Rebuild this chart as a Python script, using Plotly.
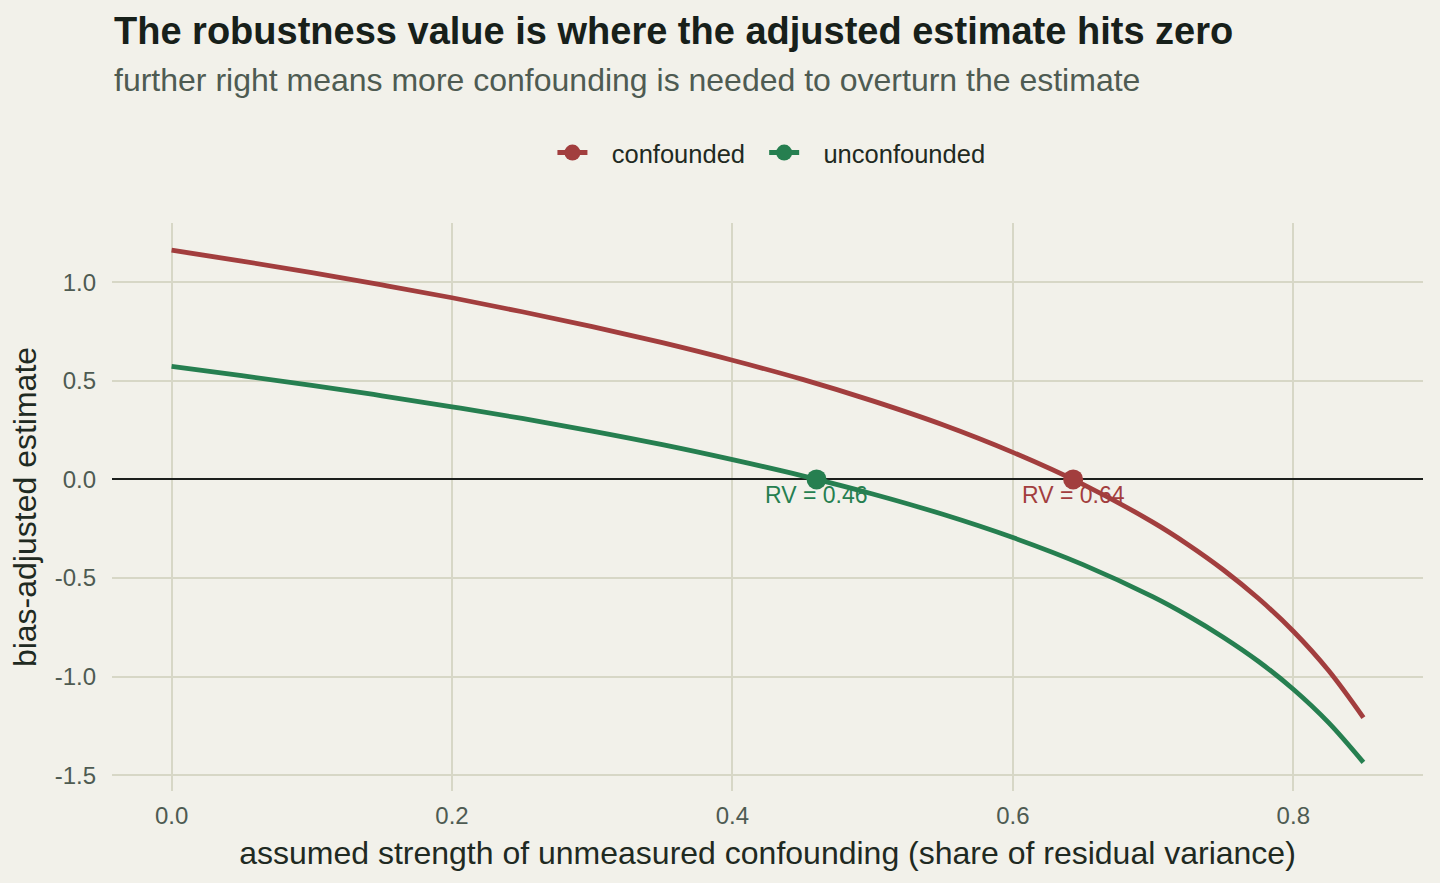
import plotly.graph_objects as go

# ---- data (values checked against gridlines) ----
x_vals = [0.0, 0.05, 0.1, 0.15, 0.2, 0.25, 0.3, 0.35, 0.4, 0.45, 0.5, 0.55, 0.6, 0.65, 0.7, 0.725, 0.75, 0.775, 0.8, 0.825, 0.85]
confounded = [1.162, 1.107, 1.048, 0.986, 0.921, 0.850, 0.775, 0.693, 0.604, 0.507, 0.398, 0.277, 0.137, -0.025, -0.218, -0.331, -0.458, -0.603, -0.770, -0.968, -1.208]
unconfounded = [0.573, 0.526, 0.477, 0.424, 0.368, 0.309, 0.245, 0.176, 0.100, 0.018, -0.074, -0.177, -0.295, -0.432, -0.596, -0.692, -0.800, -0.922, -1.064, -1.232, -1.435]

series_names = ["confounded", "unconfounded"]
rv_values = [0.643, 0.46]
rv_labels = ["RV = 0.64", "RV = 0.46"]

x_ticks = [0.0, 0.2, 0.4, 0.6, 0.8]
x_tick_text = ["0.0", "0.2", "0.4", "0.6", "0.8"]
y_ticks = [1.0, 0.5, 0.0, -0.5, -1.0, -1.5]
y_tick_text = ["1.0", "0.5", "0.0", "-0.5", "-1.0", "-1.5"]

RED = "#a23e3e"
GREEN = "#267f50"
BG = "#f2f1ea"
GRID = "#d7d7c6"
FONT = "Liberation Sans, Arial, sans-serif"

PLOT_L, PLOT_R, PLOT_T, PLOT_B = 112, 1423, 223, 791
def px_to_paper_y(py):
    return (PLOT_B - py) / (PLOT_B - PLOT_T)

NB = "\u00a0"
TH = "\u2009"
legend_text = [NB + NB + TH + series_names[0] + NB + NB,
               NB + NB + TH + series_names[1]]

fig = go.Figure()
for i, (name, ys, col, rv, lab) in enumerate([
    (series_names[0], confounded, RED, rv_values[0], rv_labels[0]),
    (series_names[1], unconfounded, GREEN, rv_values[1], rv_labels[1]),
]):
    fig.add_trace(go.Scatter(
        x=x_vals, y=ys, mode="lines", name=name, legendgroup=name,
        line=dict(color=col, width=4.8, shape="spline", smoothing=1.0),
        showlegend=False, hoverinfo="skip",
    ))
    fig.add_trace(go.Scatter(
        x=[rv], y=[0], mode="markers+lines", name=legend_text[i], legendgroup=name,
        marker=dict(color=col, size=20),
        line=dict(color=col, width=5),
        showlegend=True,
    ))
    fig.add_annotation(
        x=rv, y=0, text=lab, showarrow=False, xanchor="center", yanchor="top",
        yshift=-1, font=dict(family=FONT, size=23, color=col),
    )

fig.update_layout(
    width=1440, height=883,
    paper_bgcolor=BG, plot_bgcolor=BG,
    font=dict(family=FONT, color="#4e5b52"),
    margin=dict(l=PLOT_L, r=1440 - PLOT_R, t=PLOT_T, b=883 - PLOT_B),
    showlegend=True,
    legend=dict(orientation="h", x=0.503, xanchor="center", y=px_to_paper_y(153),
                yanchor="middle", font=dict(family=FONT, size=25.5, color="#1f2a22"),
                bgcolor="rgba(0,0,0,0)", tracegroupgap=0),
    xaxis=dict(range=[-0.0425, 0.8925], tickvals=x_ticks, ticktext=x_tick_text,
               showgrid=True, gridcolor=GRID, gridwidth=1.5, zeroline=False,
               showline=False, ticks="", ticklabelstandoff=8,
               tickfont=dict(size=24, color="#4e5b52"),
               title=dict(text="assumed strength of unmeasured confounding (share of residual variance)",
                          font=dict(size=32, color="#1f2a22"), standoff=13)),
    yaxis=dict(range=[-1.58, 1.30], tickvals=y_ticks, ticktext=y_tick_text,
               showgrid=True, gridcolor=GRID, gridwidth=1.5,
               zeroline=True, zerolinecolor="#1c1f1c", zerolinewidth=2.2,
               showline=False, ticks="", ticklabelstandoff=15,
               tickfont=dict(size=24, color="#4e5b52"),
               title=dict(text="bias-adjusted estimate", font=dict(size=32, color="#1f2a22"), standoff=8)),
)

fig.add_annotation(text="<b>The robustness value is where the adjusted estimate hits zero</b>",
                   xref="paper", yref="paper", x=0, y=px_to_paper_y(31),
                   xanchor="left", yanchor="middle", showarrow=False,
                   font=dict(family=FONT, size=38, color="#17201a"))
fig.add_annotation(text="further right means more confounding is needed to overturn the estimate",
                   xref="paper", yref="paper", x=0, y=px_to_paper_y(80),
                   xanchor="left", yanchor="middle", showarrow=False,
                   font=dict(family=FONT, size=32, color="#4e5b52"))

fig.write_html("out.html")
